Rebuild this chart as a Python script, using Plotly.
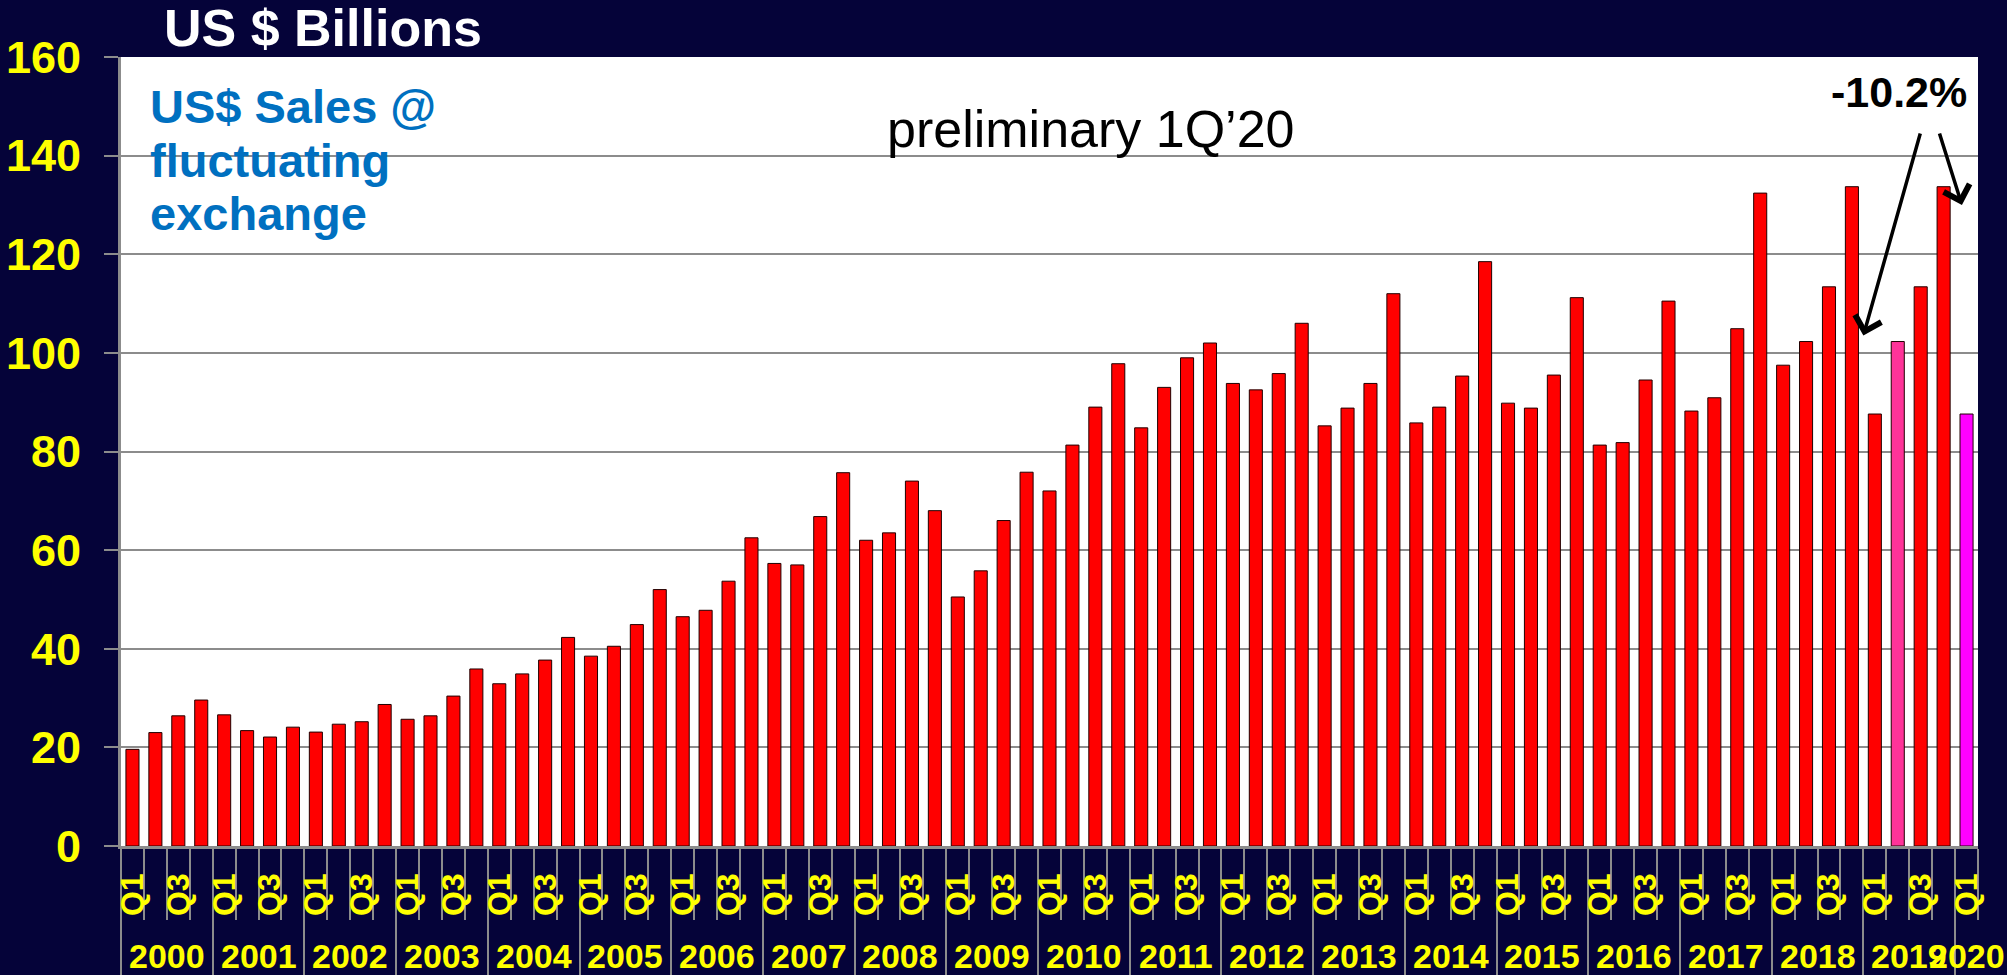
import plotly.graph_objects as go

# --- dados (US$ bilhoes por trimestre, 2000 Q1 .. 2020 Q1) ---
years = [str(y) for y in range(2000, 2021)]
quarters = ["Q1", "Q2", "Q3", "Q4"]
sales = [
    19.6, 23.0, 26.4, 29.6,     # 2000
    26.6, 23.4, 22.1, 24.1,     # 2001
    23.1, 24.7, 25.2, 28.7,     # 2002
    25.7, 26.4, 30.4, 35.9,     # 2003
    32.9, 34.9, 37.7, 42.3,     # 2004
    38.5, 40.5, 44.9, 52.0,     # 2005
    46.5, 47.8, 53.7, 62.5,     # 2006
    57.3, 57.0, 66.8, 75.7,     # 2007
    62.0, 63.5, 74.0, 68.0,     # 2008
    50.5, 55.8, 66.0, 75.8,     # 2009
    72.0, 81.3, 89.0, 97.8,     # 2010
    84.8, 93.0, 99.0, 102.0,    # 2011
    93.8, 92.5, 95.8, 106.0,    # 2012
    85.2, 88.8, 93.8, 112.0,    # 2013
    85.8, 89.0, 95.3, 118.5,    # 2014
    89.8, 88.8, 95.5, 111.2,    # 2015
    81.3, 81.8, 94.5, 110.5,    # 2016
    88.2, 90.9, 104.9, 132.4,   # 2017
    97.5, 102.3, 113.4, 133.7,  # 2018
    87.6, 102.3, 113.4, 133.7,  # 2019
    87.6,                       # 2020
]
labels = [f"{years[i // 4]} {quarters[i % 4]}" for i in range(len(sales))]
highlight = {"2019 Q2": "#FF3399", "2020 Q1": "#FF00FF"}

NAVY = "#050339"
YELLOW = "#FFFF00"
GRAY = "#8C8C8C"
FONT = "Arial, Liberation Sans, sans-serif"

x_idx = list(range(len(sales)))
colors = [highlight.get(lb, "#FF0000") for lb in labels]

# posicoes dos rotulos Q1 / Q3 e das divisoes
q_pos = [i for i, lb in enumerate(labels) if lb.endswith("Q1") or lb.endswith("Q3")]
q_text = [labels[i].split(" ")[1] for i in q_pos]
year_bounds = [i - 0.5 for i, lb in enumerate(labels) if lb.endswith("Q1")]
all_bounds = [i - 0.5 for i in range(len(sales) + 1)]

fig = go.Figure()

fig.add_trace(go.Bar(
    x=x_idx, y=sales, customdata=labels,
    marker=dict(color=colors, line=dict(color="#200000", width=1)),
    hovertemplate="%{customdata}: %{y}<extra></extra>",
    showlegend=False,
))

# trace invisivel para ativar o eixo dos rotulos Q
fig.add_trace(go.Scatter(
    x=x_idx, y=sales, xaxis="x2", mode="markers",
    marker=dict(opacity=0), hoverinfo="skip", showlegend=False,
))

annotations = []

# anos abaixo do eixo
for i, yr in enumerate(years):
    pos = [j for j, lb in enumerate(labels) if lb.startswith(yr)]
    annotations.append(dict(
        x=sum(pos) / len(pos), xref="x", y=-0.139, yref="paper",
        text=yr, showarrow=False, xanchor="center", yanchor="middle",
        font=dict(family=FONT, size=34, color=YELLOW, weight="bold"),
    ))

# titulo e textos
annotations.append(dict(
    x=0.109, y=1.037, xref="paper", yref="paper", text="US $ Billions",
    showarrow=False, xanchor="center", yanchor="middle",
    font=dict(family=FONT, size=52, color="white", weight="bold"),
))
for txt, yy in [("US$ Sales @", 0.937), ("fluctuating", 0.869), ("exchange", 0.802)]:
    annotations.append(dict(
        x=0.0145, y=yy, xref="paper", yref="paper", text=txt,
        showarrow=False, xanchor="left", yanchor="middle",
        font=dict(family=FONT, size=47, color="#0070C0", weight="bold"),
    ))
annotations.append(dict(
    x=41.8, y=145.5, xref="x", yref="y", text="preliminary 1Q\u201920",
    showarrow=False, xanchor="center", yanchor="middle",
    font=dict(family=FONT, size=52, color="black"),
))
annotations.append(dict(
    x=77.05, y=153.0, xref="x", yref="y", text="-10.2%",
    showarrow=False, xanchor="center", yanchor="middle",
    font=dict(family=FONT, size=43, color="black", weight="bold"),
))
# setas
for (hx, hy, tx, ty) in [(75.5, 103.5, 78.0, 144.8), (79.8, 130.0, 78.8, 144.8)]:
    annotations.append(dict(
        x=hx, y=hy, xref="x", yref="y", ax=tx, ay=ty, axref="x", ayref="y",
        text="", showarrow=True, arrowhead=4, arrowsize=1.5, arrowwidth=3.5,
        arrowcolor="black", standoff=0, startstandoff=0,
    ))

fig.update_layout(
    width=2007, height=975,
    paper_bgcolor=NAVY, plot_bgcolor="white",
    margin=dict(l=121, r=29, t=57, b=129, autoexpand=False),
    bargap=0.43,
    annotations=annotations,
    xaxis=dict(
        range=[-0.5, len(sales) - 0.5], showgrid=False, zeroline=False,
        automargin=False,
        showline=True, linecolor=GRAY, linewidth=3,
        tickmode="array", tickvals=year_bounds, showticklabels=False,
        ticks="outside", ticklen=129, tickcolor=GRAY, tickwidth=2,
        minor=dict(tickmode="array", tickvals=all_bounds, ticks="outside",
                   ticklen=71, tickcolor=GRAY, tickwidth=2, showgrid=False),
    ),
    xaxis2=dict(
        overlaying="x", anchor="y", side="bottom", automargin=False,
        range=[-0.5, len(sales) - 0.5], showgrid=False, zeroline=False,
        showline=False, ticks="", tickmode="array",
        tickvals=q_pos, ticktext=q_text, tickangle=-90,
        ticklabelstandoff=20,
        tickfont=dict(family=FONT, size=32, color=YELLOW, weight="bold"),
    ),
    yaxis=dict(
        range=[0, 160], dtick=20, showgrid=True, gridcolor=GRAY, gridwidth=2,
        zeroline=False, showline=True, linecolor=GRAY, linewidth=3,
        automargin=False,
        ticks="outside", ticklen=14, tickcolor=GRAY, tickwidth=2,
        ticklabelstandoff=14,
        tickfont=dict(family=FONT, size=45, color=YELLOW, weight="bold"),
    ),
)

# sem margem da pagina, fundo azul escuro
page_css = ("document.body.style.margin='0';"
            "document.body.style.background='" + NAVY + "';"
            "document.documentElement.style.background='" + NAVY + "';"
            "document.body.style.overflow='hidden';")
fig.write_html("out.html", post_script=page_css,
               config={"displayModeBar": False})
